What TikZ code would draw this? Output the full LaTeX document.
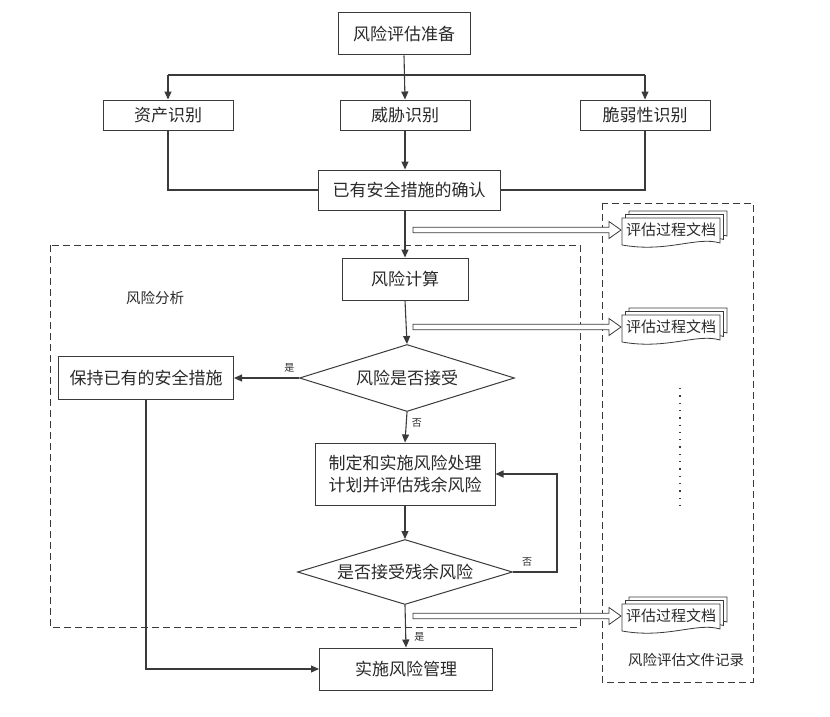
\documentclass[tikz,border=0pt]{standalone}
\usepackage{fontspec}
\setmainfont{Noto Sans CJK SC}
\usetikzlibrary{shapes.geometric,arrows.meta}
\definecolor{linec}{HTML}{3A3A3A}
\definecolor{txtc}{HTML}{2A2A2A}
\tikzset{
  box/.style={draw=linec, line width=1pt, fill=white, inner sep=0pt, text=txtc,
    font=\fontsize{17}{22}\selectfont, align=center},
  dec/.style={draw=linec, line width=1pt, fill=white, inner sep=0pt, text=txtc,
    shape=diamond, shape aspect=3, font=\fontsize{17}{22}\selectfont},
  conn/.style={draw=linec, line width=1.1pt},
  arr/.style={conn, -{Triangle[length=8pt,width=7pt]}},
  lbl/.style={text=txtc, font=\fontsize{10}{12}\selectfont, inner sep=0pt},
  grp/.style={draw=linec, line width=1pt, dash pattern=on 7pt off 4pt},
  docf/.style={draw=linec, line width=0.8pt, fill=white},
  fat/.style={draw=linec, line width=0.8pt, fill=white},
}
\newcommand\docshape[2]{% #1 = left x, #2 = top y
  \path[docf] (#1,#2) -- (#1+98,#2) -- (#1+98,#2+25)
    .. controls (#1+75,#2+18) and (#1+45,#2+35) .. (#1,#2+27) -- cycle;}
\newcommand\docstack[3]{% #1 name, #2 arrow y, #3 start x
  \path[fat] (#3,#2-2.7) -- (609,#2-2.7) -- (609,#2-8.5) -- (621,#2) -- (609,#2+8.5)
    -- (609,#2+2.7) -- (#3,#2+2.7) -- cycle;
  \docshape{629}{#2-19}
  \docshape{625.5}{#2-15.5}
  \docshape{622}{#2-12}
  \node[text=txtc, font=\fontsize{15}{18}\selectfont, inner sep=0pt] (#1) at (671,#2-0.5) {评估过程文档};}
\begin{document}
\begin{tikzpicture}[x=1pt,y=-1pt]
\useasboundingbox (0,0) rectangle (830,717);
% group frames
\draw[grp] (50,245) rectangle (580,627);
\draw[grp] (602,203) rectangle (753,682);
\node[text=txtc, font=\fontsize{14.5}{16}\selectfont, inner sep=0pt] (ana) at (155,298) {风险分析};
\node[text=txtc, font=\fontsize{14.5}{16}\selectfont, inner sep=0pt] (rec) at (686,660) {风险评估文件记录};
% nodes
\node[box, minimum width=132pt, minimum height=42pt] (prep) at (404,34) {风险评估准备};
\node[box, minimum width=130pt, minimum height=30pt] (asset) at (168,115) {资产识别};
\node[box, minimum width=130pt, minimum height=30pt] (threat) at (405,115) {威胁识别};
\node[box, minimum width=130pt, minimum height=30pt] (vuln) at (645,115) {脆弱性识别};
\node[box, minimum width=182pt, minimum height=40pt] (confirm) at (409,190) {已有安全措施的确认};
\node[box, minimum width=126pt, minimum height=42pt] (calc) at (405,279) {风险计算};
\node[dec, minimum width=215pt, minimum height=67pt] (dec1) at (407,378) {风险是否接受};
\node[box, minimum width=175pt, minimum height=43pt] (keep) at (146,378) {保持已有的安全措施};
\node[box, minimum width=180pt, minimum height=62pt] (plan) at (405,474) {制定和实施风险处理\\计划并评估残余风险};
\node[dec, minimum width=215pt, minimum height=65pt] (dec2) at (405,572) {是否接受残余风险};
\node[box, minimum width=173pt, minimum height=42pt] (impl) at (406,669) {实施风险管理};
% connectors
\coordinate (jl) at (168,75);
\coordinate (jr) at (645,75);
\coordinate (loop) at (557,572);
\draw[conn] (jl) -- (jr);
\draw[arr] (prep.south) -- (threat.north);
\draw[arr] (jl) -- (asset.north);
\draw[arr] (jr) -- (vuln.north);
\draw[conn] (asset.south) |- (confirm.west);
\draw[conn] (vuln.south) |- (confirm.east);
\draw[arr] (threat.south) -- (threat.south |- confirm.north);
\draw[arr] (calc.north |- confirm.south) -- (calc.north);
\draw[arr] (calc.south) -- (dec1.north);
\draw[arr] (dec1.west) -- (keep.east) node[lbl, pos=0.15, above=5pt] {是};
\draw[arr] (dec1.south) -- (plan.north) node[lbl, pos=0.35, right=5pt] {否};
\draw[arr] (plan.south) -- (dec2.north);
\draw[arr] (dec2.east) -- (loop) |- (plan.east);
\node[lbl] (no2) at (527,562) {否};
\draw[arr] (dec2.south) -- (impl.north) node[lbl, pos=0.75, right=8pt] {是};
\draw[arr] (keep.south) |- (impl.west);
% document stacks
\docstack{d1}{230}{413}
\docstack{d2}{327}{413}
\docstack{d3}{616}{413}
% dotted continuation
\draw[linec, line width=1.3pt, dash pattern=on 1.3pt off 6pt] (680,388) -- (680,506);
\end{tikzpicture}
\end{document}
